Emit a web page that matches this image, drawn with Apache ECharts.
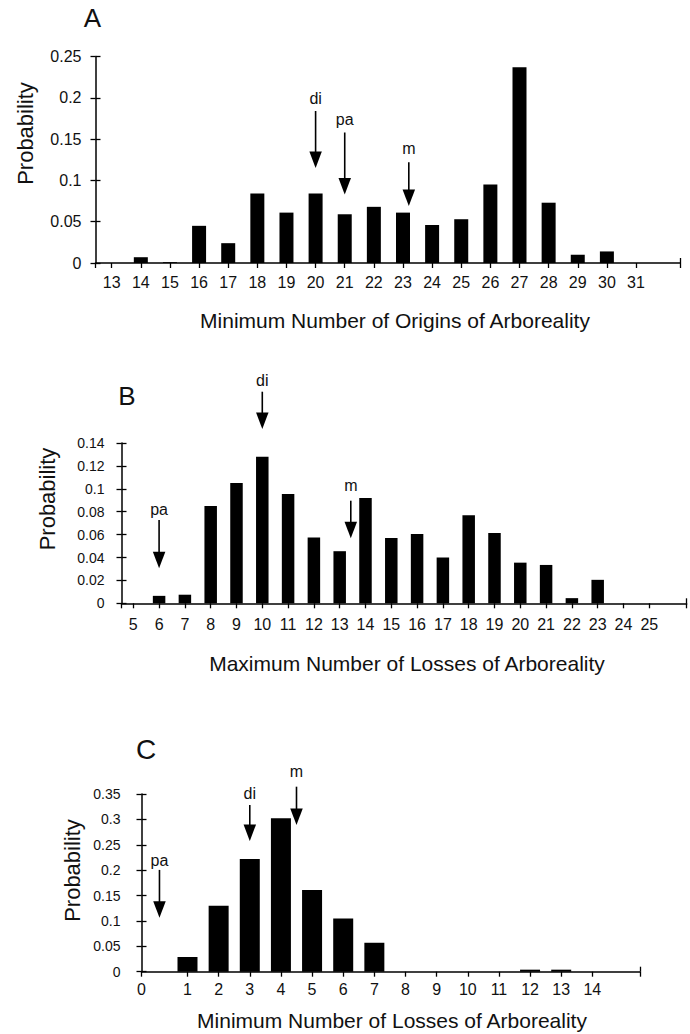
<!DOCTYPE html>
<html><head><meta charset="utf-8">
<script src="https://cdn.jsdelivr.net/npm/echarts@6/dist/echarts.min.js"></script>
<style>html,body{margin:0;padding:0;background:#fff}#chart{width:690px;height:1034px}</style>
</head><body><div id="chart"></div>
<script>
// ---------- DATA ----------
// Panel A: Minimum Number of Origins of Arboreality
const originsA = [13,14,15,16,17,18,19,20,21,22,23,24,25,26,27,28,29,30,31];
const probA    = [0,0.007,0.001,0.045,0.024,0.084,0.061,0.084,0.059,0.068,0.061,0.046,0.053,0.095,0.237,0.073,0.010,0.014,0];
const arrowLabelsA = ['di','pa','m'];
const arrowXA      = [20, 21, 23.2];
const arrowTextYA  = [0.199, 0.174, 0.139];
const arrowTopA    = [0.184, 0.158, 0.122];
const arrowTipA    = [0.115, 0.083, 0.069];

// Panel B: Maximum Number of Losses of Arboreality
const lossesMaxB = [5,6,7,8,9,10,11,12,13,14,15,16,17,18,19,20,21,22,23,24,25];
const probB      = [0,0.0065,0.0075,0.085,0.105,0.128,0.0955,0.0575,0.0455,0.092,0.057,0.0605,0.040,0.077,0.0615,0.0355,0.0335,0.0045,0.0205,0,0];
const arrowLabelsB = ['di','pa','m'];
const arrowXB      = [10, 6, 13.43];
const arrowTextYB  = [0.195, 0.0815, 0.1033];
const arrowTopB    = [0.1848, 0.0727, 0.0896];
const arrowTipB    = [0.1522, 0.0306, 0.0568];

// Panel C: Minimum Number of Losses of Arboreality
const lossesMinC = [1,2,3,4,5,6,7,8,9,10,11,12,13,14];
const probC      = [0.029,0.13,0.222,0.302,0.161,0.105,0.057,0,0,0,0,0.004,0.004,0];
const arrowLabelsC = ['pa','di','m'];
const arrowXC      = [0.1, 3, 4.5];
const arrowTextYC  = [0.22, 0.3514, 0.3939];
const arrowTopC    = [0.2005, 0.3283, 0.3644];
const arrowTipC    = [0.1064, 0.2574, 0.2889];

const panelLetters = ['A','B','C'];
const yTitle = 'Probability';
const xTitles = ['Minimum Number of Origins of Arboreality',
                 'Maximum Number of Losses of Arboreality',
                 'Minimum Number of Losses of Arboreality'];

// ---------- LAYOUT / STYLE ----------
const FONT = '"Liberation Sans", Arial, Helvetica, sans-serif';
const INK = '#000';
const TXT = '#111';

const panels = [
  {grid:{left:95.5, top:56.5, width:584.5, height:206.5}, xmin:12.444, xmax:32.51, ymax:0.25, yint:0.05,
   xs:originsA, ys:probA, barW:14, yFont:16, yMargin:14, xMargin:11,
   xLabels:originsA, fmt:null,
   arrows:[arrowXA, arrowTextYA, arrowTopA, arrowTipA, arrowLabelsA]},
  {grid:{left:121.5, top:443, width:565.2, height:160.3}, xmin:4.543, xmax:26.45, ymax:0.14, yint:0.02,
   xs:lossesMaxB, ys:probB, barW:12.5, yFont:14, yMargin:17, xMargin:13,
   xLabels:lossesMaxB, fmt:null,
   arrows:[arrowXB, arrowTextYB, arrowTopB, arrowTipB, arrowLabelsB]},
  {grid:{left:141.5, top:794, width:498.5, height:177.7}, xmin:-0.477, xmax:15.53, ymax:0.35, yint:0.05,
   xs:lossesMinC, ys:probC, barW:20, yFont:14, yMargin:21, xMargin:10,
   xLabels:[-0.477].concat(lossesMinC), fmt:function(v){return v < 0.5 ? '0' : String(v);},
   arrows:[arrowXC, arrowTextYC, arrowTopC, arrowTipC, arrowLabelsC]}
];

const grids = [], xAxes = [], yAxes = [], series = [];

panels.forEach(function(p, i){
  grids.push(Object.assign({containLabel:false, outerBoundsMode:'none'}, p.grid));
  // main x axis (ticks outside)
  const lbl = {show:true, customValues:p.xLabels, margin:p.xMargin, color:TXT, fontSize:16, fontFamily:FONT};
  if (p.fmt) lbl.formatter = p.fmt;
  xAxes.push({type:'value', gridIndex:i, min:p.xmin, max:p.xmax, position:'bottom',
    axisLine:{show:true, onZero:false, lineStyle:{color:INK, width:1.5}},
    axisTick:{show:true, inside:false, length:5, customValues:[p.xmin].concat(p.xs, [p.xmax]), lineStyle:{color:INK, width:1.3}},
    axisLabel:lbl, splitLine:{show:false}});
  // secondary x axis: inward end tick
  xAxes.push({type:'value', gridIndex:i, min:p.xmin, max:p.xmax, position:'bottom',
    axisLine:{show:false, onZero:false},
    axisTick:{show:true, inside:true, length:5, customValues:[p.xmax], lineStyle:{color:INK, width:1.3}},
    axisLabel:{show:false}, splitLine:{show:false}});
  // main y axis
  yAxes.push({type:'value', gridIndex:i, min:0, max:p.ymax, interval:p.yint, position:'left',
    axisLine:{show:true, onZero:false, lineStyle:{color:INK, width:1.5}},
    axisTick:{show:true, inside:false, length:5, lineStyle:{color:INK, width:1.3}},
    axisLabel:{show:true, margin:p.yMargin, color:TXT, fontSize:p.yFont, fontFamily:FONT},
    splitLine:{show:false}});
  // secondary y axis: inward ticks (cross ticks)
  yAxes.push({type:'value', gridIndex:i, min:0, max:p.ymax, interval:p.yint, position:'left',
    axisLine:{show:false, onZero:false},
    axisTick:{show:true, inside:true, length:5, lineStyle:{color:INK, width:1.3}},
    axisLabel:{show:false}, splitLine:{show:false}});

  series.push({type:'bar', xAxisIndex:2*i, yAxisIndex:2*i, barWidth:p.barW, silent:true,
    itemStyle:{color:INK}, data:p.xs.map(function(x,k){return [x, p.ys[k]];})});

  const a = p.arrows;
  series.push({type:'custom', xAxisIndex:2*i, yAxisIndex:2*i, clip:false, silent:true,
    data:a[0].map(function(x,k){return [x, a[1][k], a[2][k], a[3][k]];}),
    encode:{x:0, y:[1,2,3]},
    renderItem:function(params, api){
      const x = api.value(0);
      const pT = api.coord([x, api.value(1)]);
      const p1 = api.coord([x, api.value(2)]);
      const p2 = api.coord([x, api.value(3)]);
      const hh = 16.5, hw = 12.5;
      return {type:'group', children:[
        {type:'line', shape:{x1:p1[0], y1:p1[1], x2:p2[0], y2:p2[1]-hh+1}, style:{stroke:INK, lineWidth:1.6}},
        {type:'polygon', shape:{points:[[p2[0]-hw/2, p2[1]-hh],[p2[0]+hw/2, p2[1]-hh],[p2[0], p2[1]]]}, style:{fill:INK}},
        {type:'text', x:pT[0], y:pT[1], style:{text:a[4][params.dataIndex], fontSize:16, fontFamily:FONT, fill:TXT, align:'center', verticalAlign:'middle'}}
      ]};
    }});
});

const letterPos = [[92.5,17.5,26],[127,396,26],[146,749,28]];
const probPos = [[25,133.5],[47,499],[72,870.5]];
const xTitlePos = [[395,320],[407,663.3],[392,1020]];
const graphics = [];
for (let i = 0; i < 3; i++) {
  graphics.push({type:'text', x:letterPos[i][0], y:letterPos[i][1], silent:true,
    style:{text:panelLetters[i], fontSize:letterPos[i][2], fontFamily:FONT, fill:TXT, align:'center', verticalAlign:'middle'}});
  graphics.push({type:'text', x:probPos[i][0], y:probPos[i][1], rotation:Math.PI/2, silent:true,
    style:{text:yTitle, fontSize:22, fontFamily:FONT, fill:TXT, align:'center', verticalAlign:'middle'}});
  graphics.push({type:'text', x:xTitlePos[i][0], y:xTitlePos[i][1], silent:true,
    style:{text:xTitles[i], fontSize:21, fontFamily:FONT, fill:TXT, align:'center', verticalAlign:'middle'}});
}

const chart = echarts.init(document.getElementById('chart'), null, {renderer:'svg'});
chart.setOption({
  animation:false,
  backgroundColor:'#fff',
  grid:grids, xAxis:xAxes, yAxis:yAxes, series:series,
  graphic:graphics
});
</script></body></html>
